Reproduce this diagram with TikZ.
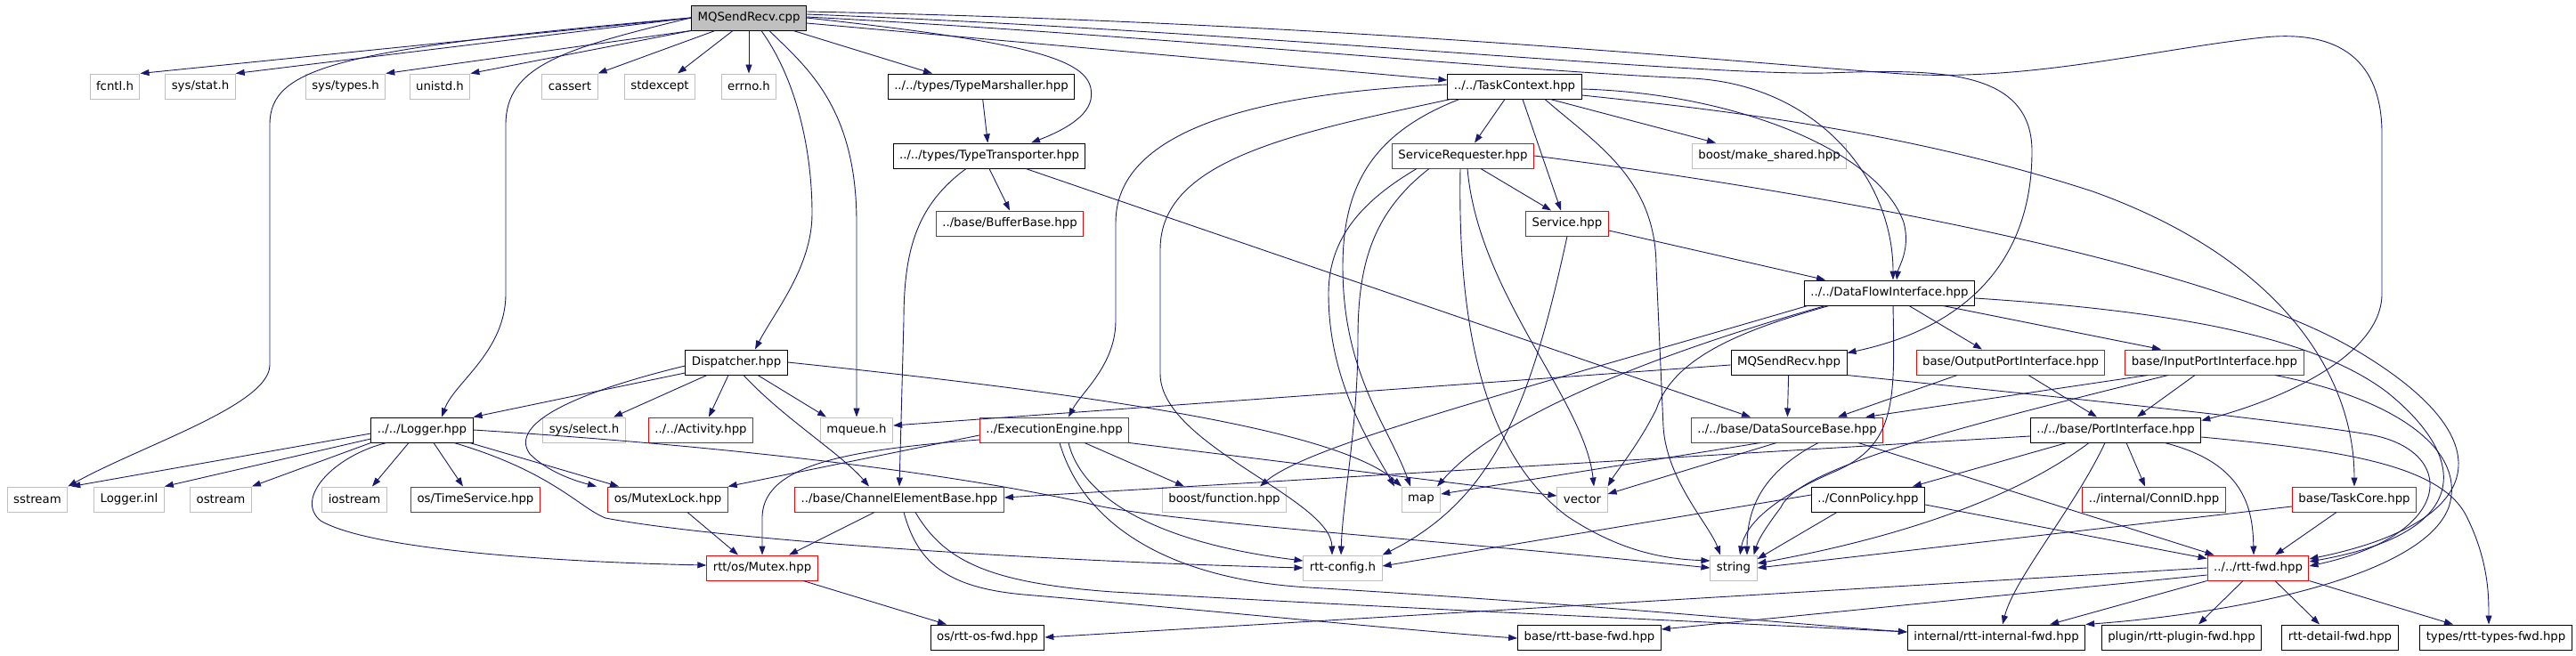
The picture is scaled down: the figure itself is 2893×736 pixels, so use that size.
\PassOptionsToPackage{svgnames}{xcolor}
\documentclass[tikz,border=0pt]{standalone}
\usepackage{fontspec}
\setmainfont{DejaVu Sans}
\usepackage[svgnames]{xcolor}
\usepackage{tikz}
\usetikzlibrary{arrows.meta}

\begin{document}
\begin{tikzpicture}
          [x=1pt, y=-1pt,
           every node/.style={draw, rectangle, minimum height=28pt, inner xsep=7pt,
             font=\fontsize{13.3}{16}\selectfont},
           sysfile/.style={draw=Silver, line width=1pt},
           docfile/.style={draw=black, line width=1pt},
           cutfile/.style={draw=Red, line width=1pt},
           mainfile/.style={draw=black, fill=Silver, line width=1pt},
           incl/.style={draw=MidnightBlue, line width=0.9pt, -{Triangle[length=10pt,width=7pt]}}]
          \useasboundingbox (0,0) rectangle (2893,736);

          \node (cpp) [mainfile] at (841,20) {MQSendRecv.cpp};
          \node (fcntl) [sysfile] at (129,97) {fcntl.h};
          \node (sysstat) [sysfile] at (225,97) {sys/stat.h};
          \node (systypes) [sysfile] at (388,97) {sys/types.h};
          \node (unistd) [sysfile] at (494,97) {unistd.h};
          \node (cassert) [sysfile] at (640,97) {cassert};
          \node (stdexcept) [sysfile] at (741,97) {stdexcept};
          \node (errno) [sysfile] at (841,97) {errno.h};
          \node (marshaller) [docfile] at (1102,97) {../../types/TypeMarshaller.hpp};
          \node (taskcontext) [docfile] at (1701,97) {../../TaskContext.hpp};
          \node (transporter) [docfile] at (1111,175) {../../types/TypeTransporter.hpp};
          \node (requester) [cutfile] at (1643,175) {ServiceRequester.hpp};
          \node (makeshared) [sysfile] at (1987,175) {boost/make\_shared.hpp};
          \node (bufferbase) [cutfile] at (1134,251) {../base/BufferBase.hpp};
          \node (service) [cutfile] at (1760,251) {Service.hpp};
          \node (dataflow) [docfile] at (2122,329) {../../DataFlowInterface.hpp};
          \node (dispatcher) [docfile] at (827,407) {Dispatcher.hpp};
          \node (mqhpp) [docfile] at (2009,407) {MQSendRecv.hpp};
          \node (outport) [cutfile] at (2258,407) {base/OutputPortInterface.hpp};
          \node (inport) [cutfile] at (2487,407) {base/InputPortInterface.hpp};
          \node (logger) [docfile] at (474,483) {../../Logger.hpp};
          \node (select) [sysfile] at (656,483) {sys/select.h};
          \node (activity) [cutfile] at (787,483) {../../Activity.hpp};
          \node (mqueue) [sysfile] at (962,483) {mqueue.h};
          \node (engine) [cutfile] at (1184,483) {../ExecutionEngine.hpp};
          \node (datasource) [cutfile] at (2007,483) {../../base/DataSourceBase.hpp};
          \node (portif) [docfile] at (2376,483) {../../base/PortInterface.hpp};
          \node (sstream) [sysfile] at (42,561) {sstream};
          \node (loggerinl) [sysfile] at (145,561) {Logger.inl};
          \node (ostream) [sysfile] at (248,561) {ostream};
          \node (iostream) [sysfile] at (398,561) {iostream};
          \node (timeservice) [cutfile] at (534,561) {os/TimeService.hpp};
          \node (mutexlock) [cutfile] at (750,561) {os/MutexLock.hpp};
          \node (chanelem) [cutfile] at (1010,561) {../base/ChannelElementBase.hpp};
          \node (function) [sysfile] at (1375,561) {boost/function.hpp};
          \node (map) [sysfile] at (1596,561) {map};
          \node (vector) [sysfile] at (1777,561) {vector};
          \node (connpolicy) [docfile] at (2098,561) {../ConnPolicy.hpp};
          \node (connid) [cutfile] at (2419,561) {../internal/ConnID.hpp};
          \node (taskcore) [cutfile] at (2644,561) {base/TaskCore.hpp};
          \node (mutex) [cutfile] at (856,638) {rtt/os/Mutex.hpp};
          \node (rttconfig) [sysfile] at (1508,638) {rtt-config.h};
          \node (string) [sysfile] at (1947,638) {string};
          \node (rttfwd) [cutfile] at (2536,638) {../../rtt-fwd.hpp};
          \node (osfwd) [docfile] at (1109,716) {os/rtt-os-fwd.hpp};
          \node (basefwd) [docfile] at (1785,716) {base/rtt-base-fwd.hpp};
          \node (internalfwd) [docfile] at (2242,716) {internal/rtt-internal-fwd.hpp};
          \node (pluginfwd) [docfile] at (2450,716) {plugin/rtt-plugin-fwd.hpp};
          \node (detailfwd) [docfile] at (2628,716) {rtt-detail-fwd.hpp};
          \node (typesfwd) [docfile] at (2803,716) {types/rtt-types-fwd.hpp};

          \draw[incl] (cpp.west) -- (fcntl.north east);
          \draw[incl] (cpp.west) -- (sysstat.north east);
          \draw[incl] (cpp.west) .. controls (380,55) and (303,75) .. (303,140) -- (303,410) .. controls (303,455) and (160,500) .. (sstream.north east);
          \draw[incl] (cpp.west) .. controls (630,55) and (568,75) .. (568,140) -- (568,330) .. controls (568,395) and (510,430) .. ([xshift=22pt]logger.north);
          \draw[incl] (cpp.south west) -- (systypes.north east);
          \draw[incl] (cpp.south west) -- (unistd.north east);
          \draw[incl] ([xshift=-38pt]cpp.south) -- (cassert.north east);
          \draw[incl] ([xshift=-18pt]cpp.south) -- ([xshift=20pt]stdexcept.north);
          \draw[incl] (cpp) -- (errno);
          \draw[incl] ([xshift=14pt]cpp.south) .. controls (895,90) and (912,170) .. (912,240) .. controls (912,300) and (870,350) .. ([xshift=21pt]dispatcher.north);
          \draw[incl] ([xshift=23pt]cpp.south) .. controls (905,75) and (962,120) .. (962,250) -- (mqueue);
          \draw[incl] ([xshift=50pt]cpp.south) -- ([xshift=-55pt]marshaller.north);
          \draw[incl] (cpp.east) .. controls (1180,50) and (1232,70) .. (1225,112) .. controls (1220,135) and (1185,150) .. ([xshift=47pt]transporter.north);
          \draw[incl] ([yshift=-6pt]cpp.east) -- ([yshift=7pt]taskcontext.west);
          \draw[incl] ([yshift=1pt]cpp.east) .. controls (1300,40) and (1700,80) .. (1900,88) .. controls (2040,95) and (2126,200) .. ([xshift=4pt]dataflow.north);
          \draw[incl] ([yshift=4pt]cpp.east) .. controls (1400,35) and (1900,85) .. (2050,82) .. controls (2170,78) and (2282,75) .. (2282,170) .. controls (2282,300) and (2200,370) .. ([yshift=-4pt]mqhpp.north east);
          \draw[incl] ([yshift=7pt]cpp.east) .. controls (1500,25) and (1950,70) .. (2136,83) .. controls (2280,92) and (2420,55) .. (2542,42) .. controls (2640,32) and (2675,80) .. (2675,150) -- (2675,330) .. controls (2675,400) and (2560,450) .. ([yshift=-4pt]portif.north east);

          \draw[incl] (marshaller) -- (transporter);
          \draw[incl] (transporter.south) -- (bufferbase.north);
          \draw[incl] ([xshift=-26pt]transporter.south) .. controls (1030,230) and (1015,280) .. (1015,360) -- (chanelem.north);
          \draw[incl] ([xshift=41pt]transporter.south) -- ([xshift=-41pt]datasource.north);

          \draw[incl] ([xshift=-11pt]taskcontext.south) -- ([xshift=13pt]requester.north);
          \draw[incl] ([xshift=9pt]taskcontext.south) -- ([xshift=-7pt]service.north);
          \draw[incl] ([xshift=40pt]taskcontext.south) -- ([xshift=-60pt]makeshared.north);
          \draw[incl] ([yshift=-3pt]taskcontext.east) .. controls (1950,105) and (2110,170) .. (2138,250) .. controls (2146,280) and (2132,300) .. ([xshift=8pt]dataflow.north);
          \draw[incl] ([yshift=2pt]taskcontext.west) .. controls (1400,105) and (1253,150) .. (1253,250) -- (1253,360) .. controls (1253,410) and (1215,440) .. ([xshift=16pt]engine.north);
          \draw[incl] ([xshift=-72pt]taskcontext.south) .. controls (1450,150) and (1303,180) .. (1303,280) -- (1303,420) .. controls (1303,500) and (1495,560) .. ([xshift=-12pt]rttconfig.north);
          \draw[incl] ([xshift=-62pt]taskcontext.south) .. controls (1540,150) and (1508,210) .. (1508,300) .. controls (1508,420) and (1560,480) .. ([xshift=-12pt]map.north);
          \draw[incl] ([xshift=34pt]taskcontext.south) .. controls (1790,160) and (1860,200) .. (1860,300) -- (1868,480) .. controls (1872,540) and (1920,590) .. ([xshift=-15pt]string.north);
          \draw[incl] ([yshift=-10pt]taskcontext.east) .. controls (1950,125) and (2150,150) .. (2350,215) .. controls (2560,290) and (2644,420) .. (taskcore.north);

          \draw[incl] ([xshift=20pt]requester.south) -- ([xshift=-18pt]service.north);
          \draw[incl] ([xshift=-52pt]requester.south) .. controls (1540,220) and (1492,260) .. (1492,330) .. controls (1492,430) and (1540,500) .. ([xshift=-30pt]map.north);
          \draw[incl] ([xshift=-38pt]requester.south) .. controls (1540,240) and (1525,300) .. (1525,380) .. controls (1525,480) and (1508,560) .. ([xshift=-2pt]rttconfig.north);
          \draw[incl] ([xshift=-3pt]requester.south) .. controls (1636,400) and (1680,520) .. (1760,580) .. controls (1820,620) and (1870,628) .. ([yshift=8pt]string.west);
          \draw[incl] ([xshift=5pt]requester.south) .. controls (1660,330) and (1780,450) .. ([xshift=13pt]vector.north);
          \draw[incl] (requester.east) .. controls (2150,230) and (2500,310) .. (2640,390) .. controls (2830,500) and (2780,590) .. ([yshift=10pt]rttfwd.east);

          \draw[incl] ([yshift=-8pt]service.east) -- ([xshift=-72pt]dataflow.north);
          \draw[incl] (service.south) .. controls (1720,450) and (1680,560) .. (rttconfig.north east);

          \draw[incl] ([xshift=22pt]dataflow.south) -- ([xshift=-32pt]outport.north);
          \draw[incl] ([xshift=60pt]dataflow.south) -- ([xshift=-60pt]inport.north);
          \draw[incl] ([xshift=4pt]dataflow.south) .. controls (2128,450) and (2130,500) .. (2060,530) .. controls (1990,560) and (1960,590) .. ([xshift=7pt]string.north);
          \draw[incl] ([xshift=-92pt]dataflow.south) .. controls (1700,440) and (1470,500) .. ([xshift=40pt]function.north);
          \draw[incl] ([xshift=-72pt]dataflow.south) .. controls (1850,400) and (1680,470) .. ([xshift=18pt]map.north);
          \draw[incl] ([xshift=-68pt]dataflow.south) .. controls (1960,370) and (1880,400) .. (1860,460) .. controls (1840,500) and (1815,530) .. (vector.north east);
          \draw[incl] ([yshift=-6pt]dataflow.east) .. controls (2450,350) and (2600,380) .. (2680,440) .. controls (2780,520) and (2770,600) .. ([yshift=7pt]rttfwd.east);

          \draw[incl] ([yshift=-3pt]mqhpp.west) -- ([yshift=5pt]mqueue.east);
          \draw[incl] (mqhpp) -- (datasource);
          \draw[incl] (mqhpp.south east) .. controls (2300,445) and (2550,470) .. (2660,488) .. controls (2760,505) and (2760,600) .. ([yshift=2pt]rttfwd.east);

          \draw[incl] ([xshift=-60pt]outport.south) -- ([xshift=57pt]datasource.north);
          \draw[incl] ([xshift=20pt]outport.south) -- ([xshift=-21pt]portif.north);
          \draw[incl] ([xshift=-75pt]inport.south) -- ([xshift=-20pt]datasource.north east);
          \draw[incl] ([xshift=-22pt]inport.south) -- ([xshift=24pt]portif.north);
          \draw[incl] ([xshift=-52pt]inport.south) .. controls (2200,480) and (2020,525) .. (2000,570) .. controls (1985,590) and (1975,605) .. ([xshift=-4pt]string.north east);
          \draw[incl] ([xshift=68pt]inport.south) .. controls (2700,450) and (2770,510) .. (2750,570) .. controls (2720,650) and (2500,690) .. (internalfwd.north east);

          \draw[incl] ([xshift=-30pt]datasource.south) -- ([yshift=6pt]map.east);
          \draw[incl] ([xshift=-12pt]datasource.south) -- ([yshift=6pt]vector.east);
          \draw[incl] ([xshift=35pt]datasource.south) .. controls (1980,530) and (1962,570) .. ([xshift=15pt]string.north);
          \draw[incl] ([xshift=80pt]datasource.south) -- ([xshift=8pt]rttfwd.north west);

          \draw[incl] ([yshift=-7pt]portif.west) -- ([yshift=2pt]chanelem.east);
          \draw[incl] ([xshift=-55pt]portif.south) -- ([xshift=50pt]connpolicy.north);
          \draw[incl] ([xshift=12pt]portif.south) -- ([xshift=-10pt]connid.north);
          \draw[incl] ([xshift=55pt]portif.south) .. controls (2520,520) and (2530,570) .. ([xshift=-5pt]rttfwd.north);
          \draw[incl] ([xshift=-30pt]portif.south) .. controls (2250,570) and (2100,610) .. ([yshift=5pt]string.east);
          \draw[incl] ([xshift=-12pt]portif.south) .. controls (2330,570) and (2262,650) .. ([xshift=7pt]internalfwd.north);
          \draw[incl] ([yshift=-8pt]portif.east) .. controls (2620,505) and (2740,520) .. (2770,580) .. controls (2795,630) and (2795,670) .. ([xshift=-8pt]typesfwd.north);

          \draw[incl] ([yshift=5pt]connpolicy.west) -- ([yshift=2pt]rttconfig.east);
          \draw[incl] ([xshift=-35pt]connpolicy.south) -- ([yshift=10pt]string.east);
          \draw[incl] ([yshift=-6pt]connpolicy.east) -- ([yshift=-4pt]rttfwd.north west);

          \draw[incl] ([yshift=-8pt]taskcore.west) -- (string.east);
          \draw[incl] ([xshift=-20pt]taskcore.south) -- ([xshift=19pt]rttfwd.north);

          \draw[incl] (rttfwd.west) -- (osfwd.east);
          \draw[incl] ([yshift=-8pt]rttfwd.west) -- ([yshift=9pt]basefwd.east);
          \draw[incl] (rttfwd.south west) -- ([xshift=-40pt]internalfwd.north east);
          \draw[incl] ([xshift=-17pt]rttfwd.south) -- ([xshift=19pt]pluginfwd.north);
          \draw[incl] ([xshift=19pt]rttfwd.south) -- ([xshift=-23pt]detailfwd.north);
          \draw[incl] (rttfwd.south east) -- ([xshift=-48pt]typesfwd.north);

          \draw[incl] ([yshift=-4pt]logger.west) -- ([xshift=4pt]sstream.north east);
          \draw[incl] ([yshift=-10pt]logger.west) -- (loggerinl.north east);
          \draw[incl] (logger.south west) -- (ostream.north east);
          \draw[incl] ([xshift=-15pt]logger.south) -- ([xshift=20pt]iostream.north);
          \draw[incl] ([xshift=13pt]logger.south) -- ([xshift=-14pt]timeservice.north);
          \draw[incl] ([xshift=-4pt]logger.south east) -- ([xshift=-55pt]mutexlock.north);
          \draw[incl] ([xshift=-40pt]logger.south) .. controls (375,512) and (330,560) .. (360,585) .. controls (420,620) and (650,632) .. ([yshift=3pt]mutex.west);
          \draw[incl] ([xshift=36pt]logger.south) .. controls (620,530) and (650,570) .. (680,582) .. controls (800,605) and (1150,630) .. (rttconfig.west);
          \draw[incl] (logger.east) .. controls (800,500) and (1050,528) .. (1220,565) .. controls (1290,585) and (1600,605) .. (string.west);

          \draw[incl] ([yshift=-12pt]dispatcher.west) -- (logger.north east);
          \draw[incl] ([xshift=-33pt]dispatcher.south) -- ([xshift=33pt]select.north);
          \draw[incl] ([xshift=-9pt]dispatcher.south) -- ([xshift=9pt]activity.north);
          \draw[incl] ([xshift=24pt]dispatcher.south) -- ([xshift=-34pt]mqueue.north);
          \draw[incl] ([xshift=8pt]dispatcher.south) .. controls (880,470) and (945,510) .. ([xshift=-34pt]chanelem.north);
          \draw[incl] ([yshift=-4pt]dispatcher.west) .. controls (650,440) and (570,475) .. (595,510) .. controls (615,530) and (645,540) .. ([xshift=-80pt]mutexlock.north);
          \draw[incl] (dispatcher.east) .. controls (1200,440) and (1500,480) .. ([xshift=-22pt]map.north);

          \draw[incl] ([yshift=-6pt]engine.west) -- (mutexlock.north east);
          \draw[incl] ([yshift=-11pt]engine.west) .. controls (960,505) and (858,520) .. (856,580) -- (mutex.north);
          \draw[incl] ([xshift=34pt]engine.south) -- ([xshift=-45pt]function.north);
          \draw[incl] (engine.south east) -- ([yshift=4pt]vector.west);
          \draw[incl] ([xshift=16pt]engine.south) .. controls (1215,560) and (1300,610) .. ([yshift=8pt]rttconfig.west);
          \draw[incl] ([xshift=6pt]engine.south) .. controls (1220,600) and (1330,652) .. (1470,660) .. controls (1800,680) and (2000,700) .. ([yshift=6pt]internalfwd.west);

          \draw[incl] ([xshift=-28pt]chanelem.south) -- ([xshift=30pt]mutex.north);
          \draw[incl] ([xshift=5pt]chanelem.south) .. controls (1030,630) and (1060,660) .. (1150,668) .. controls (1350,685) and (1600,710) .. ([yshift=-1pt]basefwd.west);
          \draw[incl] ([xshift=18pt]chanelem.south) .. controls (1060,630) and (1110,655) .. (1250,665) .. controls (1600,685) and (1950,700) .. ([yshift=6pt]internalfwd.west);

          \draw[incl] ([xshift=22pt]mutexlock.south) -- ([xshift=-27pt]mutex.north);
          \draw[incl] ([xshift=46pt]mutex.south) -- ([xshift=-46pt]osfwd.north);
        \end{tikzpicture}
\end{document}
